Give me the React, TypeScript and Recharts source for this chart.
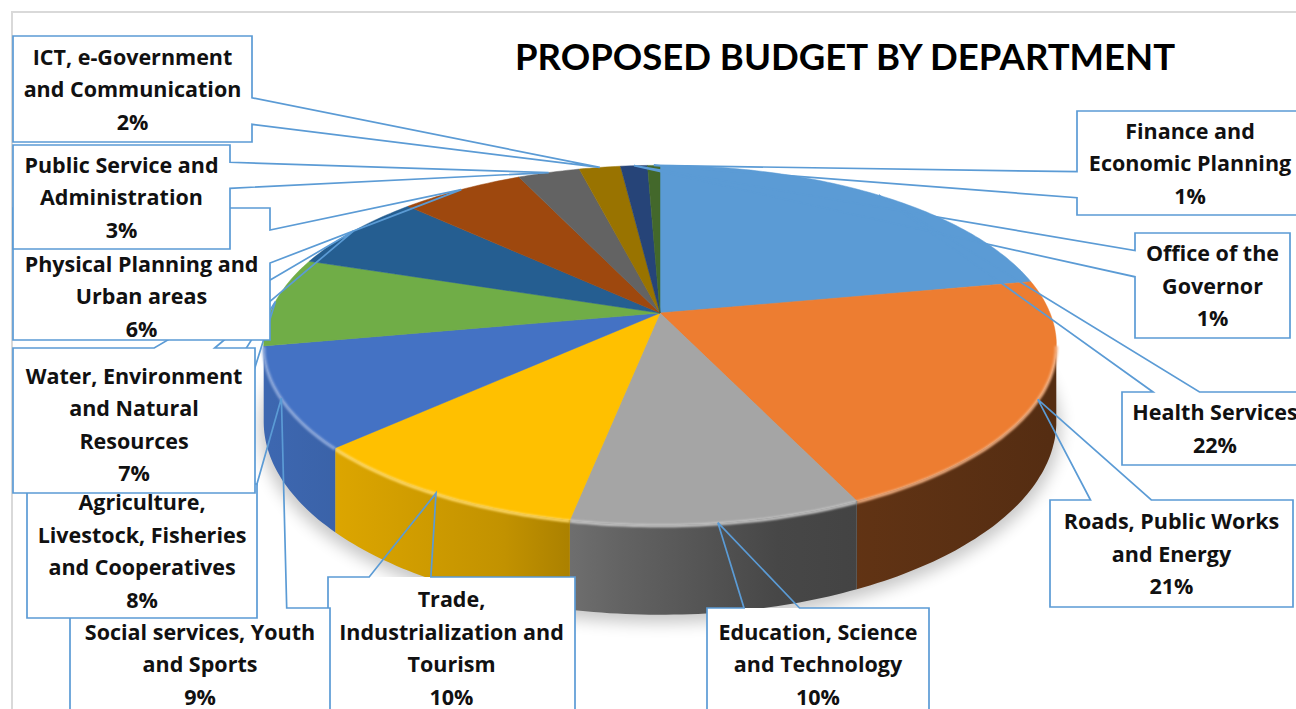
import { PieChart, Pie, Cell } from "recharts";

const departments = [
  "Health Services",
  "Roads, Public Works\nand Energy",
  "Education, Science\nand Technology",
  "Trade,\nIndustrialization and\nTourism",
  "Social services, Youth\nand Sports",
  "Agriculture,\nLivestock, Fisheries\nand Cooperatives",
  "Water, Environment\nand Natural\nResources",
  "Physical Planning and\nUrban areas",
  "Public Service and\nAdministration",
  "ICT, e-Government\nand Communication",
  "Office of the\nGovernor",
  "Finance and\nEconomic Planning",
];
const budgetShare = [22, 21, 10, 10, 9, 8, 7, 6, 3, 2, 1.3, 0.6];
const sliceColors = [
  "#5B9BD5", "#ED7D31", "#A5A5A5", "#FFC000", "#4472C4", "#70AD47",
  "#255E91", "#9E480E", "#636363", "#997300", "#264478", "#43682B",
];

// callout boxes [x, y, w, h, text shift], placed by hand like the excel original
const calloutBoxes: [number, number, number, number, number][] = [
  [1122, 392, 186, 73, 0],
  [1050, 500, 243, 107, 0],
  [707, 608, 222, 112, 0],
  [328, 577, 247, 142, 0],
  [70, 608, 260, 112, 0],
  [27, 484, 230, 134, 0],
  [13, 348, 242, 145, 4],
  [13, 208, 257, 132, 22],
  [13, 145, 217, 104, 0],
  [13, 36, 239, 106, 0],
  [1135, 233, 155, 105, 0],
  [1077, 111, 226, 104, 0],
];

const TILT = 0.178; // perspective: back of the pie is smaller than the front
const FLAT = 0.446; // vertical squash of the top face
const DEPTH = 0.19; // wall height relative to radius
const SIDE_FROM = (Math.acos(-TILT) * 180) / Math.PI;
const SIDE_TO = 360 - SIDE_FROM;
const LABEL_FONT = "'Open Sans', 'Noto Sans', sans-serif";
const TITLE_FONT = "Lato, 'Noto Sans', sans-serif";
const LINE = 32.5;

const data = departments.map((name, idx) => ({ name, idx, value: budgetShare[idx] }));

function project(cx: number, cy: number, r: number, deg: number, drop = 0) {
  const t = (deg * Math.PI) / 180;
  const s = 1 / (1 + TILT * Math.cos(t));
  return [cx + r * Math.sin(t) * s, cy - r * FLAT * Math.cos(t) * s + drop * s];
}

function rim(cx: number, cy: number, r: number, from: number, to: number, drop = 0) {
  const pts: number[][] = [];
  const n = Math.max(2, Math.ceil(to - from));
  for (let i = 0; i <= n; i++) pts.push(project(cx, cy, r, from + ((to - from) * i) / n, drop));
  return pts;
}

const toPath = (pts: number[][]) =>
  pts.map(([x, y], i) => `${i ? "L" : "M"}${x.toFixed(1)},${y.toFixed(1)}`).join(" ");

function rgb(hex: string) {
  const n = parseInt(hex.slice(1), 16);
  return [(n >> 16) & 255, (n >> 8) & 255, n & 255];
}
function shade(hex: string, f: number) {
  const [r, g, b] = rgb(hex).map((c) => Math.round(c * f));
  return `rgb(${r},${g},${b})`;
}
function mix(hex: string, t: number) {
  const [r, g, b] = rgb(hex).map((c) => Math.round(c + (255 - c) * t));
  return `rgb(${r},${g},${b})`;
}

// eslint-disable-next-line @typescript-eslint/no-explicit-any
function Slice3D(props: any) {
  const { cx, cy, outerRadius: r, startAngle, endAngle, fill } = props;
  const idx = props.payload?.idx ?? props.idx ?? props.index ?? 0;
  const a = 90 - startAngle;
  const b = 90 - endAngle;
  const drop = r * DEPTH;
  const top = rim(cx, cy, r, a, b);
  const topFace = `M${cx},${cy} ` + toPath(top).replace(/^M/, "L") + " Z";
  const wa = Math.max(a, SIDE_FROM);
  const wb = Math.min(b, SIDE_TO);
  const hasWall = wb > wa;
  const gid = `wall-${idx}`;

  return (
    <g>
      {idx === 0 && (
        <>
          <defs>
            <filter id="pie-shadow" x="-20%" y="-30%" width="140%" height="160%">
              <feGaussianBlur stdDeviation="8" />
            </filter>
            <filter id="rim-soft" x="-5%" y="-20%" width="110%" height="140%">
              <feGaussianBlur stdDeviation="1" />
            </filter>
          </defs>
          <path
            d={toPath(rim(cx, cy + 6, r * 1.01, 0, 360, drop)) + " Z"}
            fill="#000"
            opacity={0.22}
            filter="url(#pie-shadow)"
          />
        </>
      )}
      {hasWall && (
        <>
          <defs>
            <linearGradient id={gid} gradientUnits="userSpaceOnUse" x1={cx - r} y1={0} x2={cx + r} y2={0}>
              <stop offset="0" stopColor={shade(fill, 0.9)} />
              <stop offset="0.3" stopColor={shade(fill, 0.76)} />
              <stop offset="0.45" stopColor={shade(fill, 0.6)} />
              <stop offset="0.65" stopColor={shade(fill, 0.43)} />
              <stop offset="1" stopColor={shade(fill, 0.36)} />
            </linearGradient>
          </defs>
          <path
            d={toPath([...rim(cx, cy, r, wa, wb), ...rim(cx, cy, r, wa, wb, drop).reverse()]) + " Z"}
            fill={`url(#${gid})`}
          />
        </>
      )}
      <path d={topFace} fill={fill} stroke={fill} strokeWidth={0.5} />
      {hasWall && (
        <path
          d={toPath(rim(cx, cy, r, wa, wb, 1))}
          stroke={mix(fill, 0.4)}
          strokeWidth={3}
          fill="none"
          filter="url(#rim-soft)"
        />
      )}
    </g>
  );
}

// eslint-disable-next-line @typescript-eslint/no-explicit-any
function Callout(props: any) {
  const { cx, cy, outerRadius: r, midAngle, percent } = props;
  const idx = props.payload?.idx ?? props.index ?? 0;
  const [tx, ty] = project(cx, cy, r, 90 - midAngle);
  const [x, y, w, h, shift] = calloutBoxes[idx];
  const R = x + w;
  const B = y + h;
  const dxPos = tx - (x + w / 2);
  const dyPos = ty - (y + h / 2);
  const sideways = Math.abs(dxPos) * h > Math.abs(dyPos) * w;
  const x1 = x + (w * (dxPos > 0 ? 7 : 2)) / 12;
  const x2 = x + (w * (dxPos > 0 ? 10 : 5)) / 12;
  const y1 = y + (h * (dyPos > 0 ? 7 : 2)) / 12;
  const y2 = y + (h * (dyPos > 0 ? 10 : 5)) / 12;
  let pts: number[][];
  if (!sideways && dyPos < 0) pts = [[x, y], [x1, y], [tx, ty], [x2, y], [R, y], [R, B], [x, B]];
  else if (!sideways) pts = [[x, y], [R, y], [R, B], [x2, B], [tx, ty], [x1, B], [x, B]];
  else if (dxPos > 0) pts = [[x, y], [R, y], [R, y1], [tx, ty], [R, y2], [R, B], [x, B]];
  else pts = [[x, y], [R, y], [R, B], [x, B], [x, y2], [tx, ty], [x, y1]];

  const lines = [...departments[idx].split("\n"), `${Math.round(percent * 100)}%`];
  const firstY = y + h / 2 + shift - ((lines.length - 1) * LINE) / 2 + 8;

  return (
    <g>
      <rect x={x} y={y} width={w} height={h} fill="#fff" />
      <path d={toPath(pts) + " Z"} fill="none" stroke="#5B9BD5" strokeWidth={1.7} strokeLinejoin="miter" />
      <text
        x={x + w / 2}
        y={firstY}
        textAnchor="middle"
        fontFamily={LABEL_FONT}
        fontWeight={700}
        fontSize={21.5}
        fill="#111"
      >
        {lines.map((l, i) => (
          <tspan key={i} x={x + w / 2} dy={i ? LINE : 0}>
            {l}
          </tspan>
        ))}
      </text>
    </g>
  );
}

export default function App() {
  return (
    <div
      style={{
        position: "fixed",
        left: 0,
        top: 0,
        width: 1296,
        height: 709,
        overflow: "hidden",
        background: "#fff",
      }}
    >
      <div
        style={{
          position: "absolute",
          left: 11,
          top: 11,
          width: 1330,
          height: 740,
          border: "2px solid #D9D9D9",
        }}
      />
      <div style={{ position: "absolute", left: 0, top: 0 }}>
        <PieChart width={1296} height={709} margin={{ top: 0, right: 0, bottom: 0, left: 0 }}>
          <Pie
            data={data}
            dataKey="value"
            nameKey="name"
            cx={660}
            cy={313}
            outerRadius={390}
            startAngle={90}
            endAngle={-270}
            stroke="none"
            isAnimationActive={false}
            shape={Slice3D}
            activeShape={Slice3D}
            inactiveShape={Slice3D}
            label={Callout}
            labelLine={false}
          >
            {data.map((d) => (
              <Cell key={d.name} fill={sliceColors[d.idx]} />
            ))}
          </Pie>
        </PieChart>
      </div>
      <div
        style={{
          position: "absolute",
          left: 845,
          top: 38,
          transform: "translateX(-50%)",
          fontFamily: TITLE_FONT,
          fontWeight: 700,
          fontSize: 36.5,
          lineHeight: "36px",
          whiteSpace: "nowrap",
          color: "#000",
        }}
      >
        PROPOSED BUDGET BY DEPARTMENT
      </div>
    </div>
  );
}
